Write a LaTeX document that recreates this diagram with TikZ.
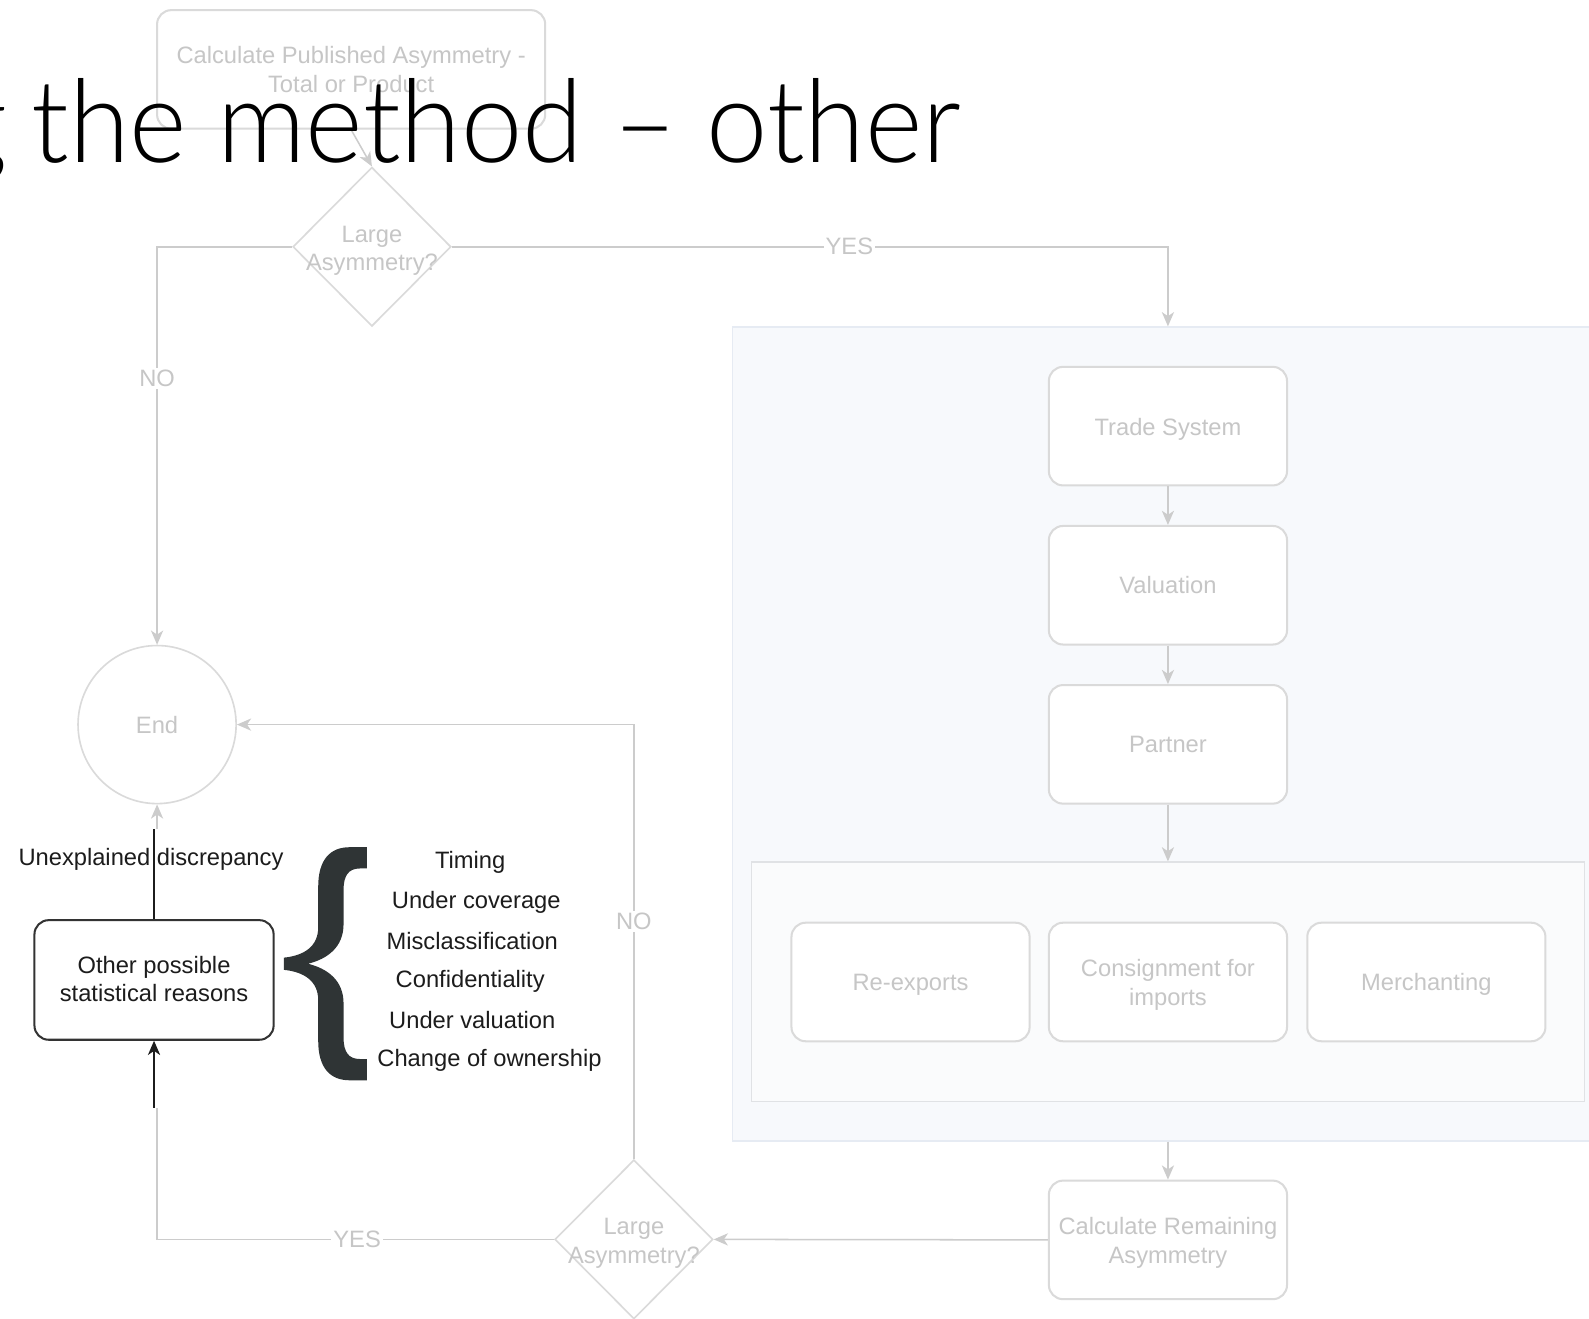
\documentclass[tikz,border=0pt]{standalone}
\usepackage{fontspec}
\setmainfont{Liberation Sans}
\newfontfamily\titlefont{Lato}[UprightFont={* Light}]
\usetikzlibrary{shapes.geometric,arrows.meta}

\definecolor{lineg}{RGB}{204,204,204}
\definecolor{boxg}{RGB}{218,218,218}
\definecolor{txtg}{RGB}{198,198,198}
\definecolor{panel}{RGB}{247,249,252}
\definecolor{panelline}{RGB}{230,235,243}
\definecolor{innerfill}{RGB}{250,251,252}
\definecolor{innerline}{RGB}{224,226,229}
\definecolor{ink}{RGB}{28,28,28}
\definecolor{bracecol}{RGB}{47,52,53}

% lower a text a little without changing its reported size
\newcommand{\lowered}[2]{\raisebox{-#1}[\height][\depth]{#2}}
% two-line text that does not widen its diamond
\newcommand{\ztext}[1]{\lowered{2pt}{\makebox[0pt]{\begin{tabular}{@{}c@{}}#1\end{tabular}}}}
\newcommand{\gtext}[1]{\lowered{1.6pt}{\begin{tabular}{@{}c@{}}#1\end{tabular}}}

\begin{document}
\begin{tikzpicture}[x=0.5pt,y=-0.5pt,
  every node/.style={font=\fontsize{11.7}{14}\selectfont},
  gbox/.style={draw=boxg, line width=1pt, rounded corners=7pt, fill=white,
    text=txtg, align=center, minimum width=117.5pt, minimum height=58.5pt, inner sep=0pt},
  dia/.style={diamond, aspect=1, draw=boxg, line width=0.8pt, fill=white,
    text=txtg, minimum width=78pt, minimum height=78.5pt, inner sep=0pt},
  glink/.style={draw=lineg, line width=0.75pt},
  garrow/.style={glink, -{Stealth[length=7pt,width=6pt,inset=2pt]}},
  glabel/.style={fill=white, text=txtg, inner sep=1pt},
  blink/.style={draw=ink, line width=0.9pt},
  barrow/.style={blink, -{Stealth[length=7pt,width=6pt,inset=2pt]}},
  listtext/.style={text=ink, inner sep=0pt}
]
\clip (0,0) rectangle (1568,1301);
\fill[white] (0,0) rectangle (1568,1301);

% shaded panels
\node[draw=panelline, fill=panel, line width=0.75pt, anchor=north west,
  minimum width=439pt, minimum height=401.5pt, inner sep=0pt] (big) at (722,322) {};
\node[draw=innerline, fill=innerfill, line width=0.75pt, anchor=north west,
  minimum width=411pt, minimum height=118pt, inner sep=0pt] (inner) at (741,850) {};

% process boxes
\node[gbox, minimum width=191.5pt] (top) at (346.5,68.5) {Calculate Published Asymmetry -\\Total or Product};
\node[gbox] (ts) at (1152.5,420.5) {\gtext{Trade System}};
\node[gbox] (val) at (1152.5,577.5) {Valuation};
\node[gbox] (par) at (1152.5,734.5) {Partner};
\node[gbox] (rex) at (898.5,969) {\gtext{Re-exports}};
\node[gbox] (con) at (1152.5,969) {\gtext{Consignment for\\imports}};
\node[gbox] (mer) at (1407.5,969) {\gtext{Merchanting}};
\node[gbox] (calc) at (1152.5,1223.5) {\gtext{Calculate Remaining\\Asymmetry}};

% decisions and end
\node[dia] (d1) at (367,243.5) {\ztext{Large\\Asymmetry?}};
\node[dia] (d2) at (625.5,1223) {\ztext{Large\\Asymmetry?}};
\node[circle, draw=boxg, line width=0.8pt, minimum size=78pt, inner sep=0pt,
  text=txtg] (end) at (155,715) {End};

% grey flow
\draw[garrow] (top.south) -- (d1.north);
\draw[garrow] (d1.west) -| node[glabel, pos=0.665] {NO} (end.north);
\draw[garrow] (d1.east) -| node[glabel, pos=0.2776] {YES} (ts |- big.north);
\draw[garrow] (ts.south) -- (val.north);
\draw[garrow] (val.south) -- (par.north);
\draw[garrow] (par.south) -- (par |- inner.north);
\draw[garrow] (calc |- big.south) -- (calc.north);
\draw[garrow] (calc.west) -- (d2.east);
\draw[garrow] (d2.north) |- node[glabel, pos=0.273] {NO} (end.east);
\coordinate (yesend) at (155,1093);
\draw[glink] (d2.west) -| node[glabel, pos=0.248] {YES} (yesend);
\coordinate (upstart) at (155,818);
\draw[garrow] (upstart) -- (end.south);

% statistical reasons
\node[draw=ink!90, line width=1pt, rounded corners=7pt, fill=white, text=ink,
  align=center, minimum width=118pt, minimum height=59pt, inner sep=0pt]
  (other) at (152,967) {\lowered{0.8pt}{\begin{tabular}{@{}c@{}}Other possible\\statistical reasons\end{tabular}}};
\node[listtext] (unexp) at (149,848) {Unexplained discrepancy};
\coordinate (blackin) at (152,1093);
\coordinate (blackout) at (152,818);
\draw[barrow] (blackin) -- (other.south);
\draw[blink] (other.north) -- (blackout);

% brace
\fill[bracecol]
  (362,836) -- (345,836) .. controls (326,836) and (314,848) .. (314,875)
  -- (314,915) .. controls (314,934) and (300,943) .. (280,945)
  -- (280,957) .. controls (300,959) and (314,968) .. (314,987)
  -- (314,1027) .. controls (314,1054) and (326,1066) .. (345,1066)
  -- (362,1066) -- (362,1045) -- (355,1045)
  .. controls (344,1045) and (339,1038) .. (339,1024)
  -- (339,990) .. controls (339,968) and (324,956) .. (304,951)
  .. controls (324,946) and (339,934) .. (339,912)
  -- (339,878) .. controls (339,864) and (344,857) .. (355,857)
  -- (362,857) -- cycle;

\node[listtext] (r1) at (464,851) {Timing};
\node[listtext] (r2) at (470,890) {Under coverage};
\node[listtext] (r3) at (466,929) {Misclassification};
\node[listtext] (r4) at (464,968) {Confidentiality};
\node[listtext] (r5) at (466,1007) {Under valuation};
\node[listtext] (r6) at (483,1046) {Change of ownership};

% heading
\node[font=\titlefont\fontsize{57}{60}\selectfont, text=black, anchor=base east,
  inner sep=0pt] (title) at (949,160) {\scalebox{0.952}[1]{g\kern-3pt{} the method – other}};
\end{tikzpicture}
\end{document}
